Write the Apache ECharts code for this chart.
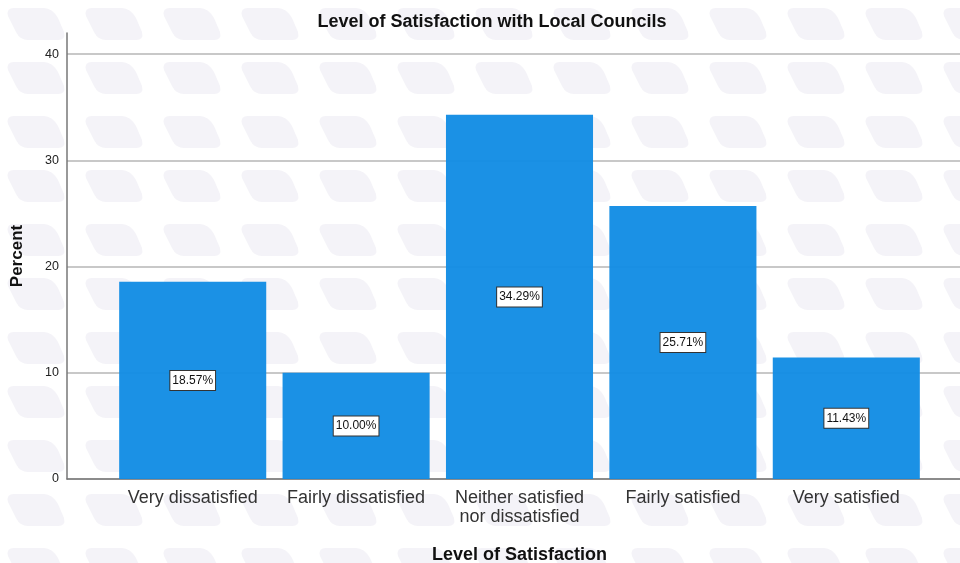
<!DOCTYPE html>
<html>
<head>
<meta charset="utf-8">
<script src="https://cdn.jsdelivr.net/npm/echarts@6/dist/echarts.min.js"></script>
<style>
  html, body { margin: 0; padding: 0; background: #fff; }
  #main { width: 960px; height: 563px; }
</style>
</head>
<body>
<div id="main"></div>
<script>
var categories = ['Very dissatisfied', 'Fairly dissatisfied', 'Neither satisfied\nnor dissatisfied', 'Fairly satisfied', 'Very satisfied'];
var percents = [18.57, 10.00, 34.29, 25.71, 11.43];
var yTicks = [0, 10, 20, 30, 40];

// light tiled background, rough stand-in for the SPSS template pattern
function makeTile() {
  var c = document.createElement('canvas');
  c.width = 78; c.height = 54;
  var ctx = c.getContext('2d');
  ctx.fillStyle = '#ffffff';
  ctx.fillRect(0, 0, 78, 54);
  ctx.fillStyle = '#f4f3f8';
  ctx.beginPath();
  ctx.moveTo(14, 8); ctx.lineTo(44, 8);
  ctx.quadraticCurveTo(52, 8, 58, 18);
  ctx.lineTo(64, 32);
  ctx.quadraticCurveTo(66, 40, 58, 40);
  ctx.lineTo(28, 40);
  ctx.quadraticCurveTo(20, 40, 16, 32);
  ctx.lineTo(8, 16);
  ctx.quadraticCurveTo(6, 8, 14, 8);
  ctx.fill();
  return c;
}

var chart = echarts.init(document.getElementById('main'));
var option = {
  backgroundColor: { image: makeTile(), repeat: 'repeat' },
  animation: false,
  title: {
    text: 'Level of Satisfaction with Local Councils',
    left: 487, top: 8, textAlign: 'center',
    textStyle: { fontFamily: 'Liberation Sans', fontSize: 18, fontWeight: 'bold', color: '#111' }
  },
  grid: [
    { left: 67, right: 0, top: 33, bottom: 84, outerBoundsMode: 'none' },
    { left: 111, right: 32, top: 33, bottom: 84, outerBoundsMode: 'none' }
  ],
  xAxis: [
    {
      gridIndex: 0, type: 'value', min: 0, max: 1,
      axisLine: { show: true, lineStyle: { color: '#777', width: 1.5 } },
      axisTick: { show: false }, axisLabel: { show: false }, splitLine: { show: false },
      name: 'Level of Satisfaction', nameLocation: 'middle', nameGap: 67,
      nameTextStyle: { fontFamily: 'Liberation Sans', fontSize: 18, fontWeight: 'bold', color: '#111', padding: [0, 0, 0, 12] }
    },
    {
      gridIndex: 1, type: 'category', data: categories,
      axisLine: { show: false }, axisTick: { show: false },
      axisLabel: { fontFamily: 'Liberation Sans', fontSize: 18, color: '#333', margin: 10, lineHeight: 19, interval: 0 }
    }
  ],
  yAxis: [
    {
      gridIndex: 0, type: 'value', min: 0, max: 42, interval: 10,
      axisLine: { show: true, lineStyle: { color: '#777', width: 1.5 } },
      axisTick: { show: false },
      axisLabel: {
        fontFamily: 'Liberation Sans', fontSize: 12.5, color: '#222', margin: 8,
        formatter: function (v) { return yTicks.indexOf(v) >= 0 ? String(v) : ''; }
      },
      splitLine: { show: true, showMaxLine: false, lineStyle: { color: '#c8c8c8', width: 2 } },
      name: 'Percent', nameLocation: 'middle', nameGap: 41, nameRotate: 90,
      nameTextStyle: { fontFamily: 'Liberation Sans', fontSize: 17, fontWeight: 'bold', color: '#111' }
    },
    {
      gridIndex: 1, type: 'value', min: 0, max: 42, interval: 10, show: false
    }
  ],
  series: [
    {
      type: 'bar', xAxisIndex: 1, yAxisIndex: 1,
      data: percents,
      barCategoryGap: '10%',
      itemStyle: { color: 'rgba(18,140,228,0.96)' },
      label: {
        show: true, position: 'inside',
        formatter: function (p) { return p.value.toFixed(2) + '%'; },
        fontFamily: 'Liberation Sans', fontSize: 12, color: '#111',
        backgroundColor: '#fff', borderColor: '#333', borderWidth: 1, padding: [4, 2, 3, 2]
      }
    }
  ]
};
chart.setOption(option);
</script>
</body>
</html>
